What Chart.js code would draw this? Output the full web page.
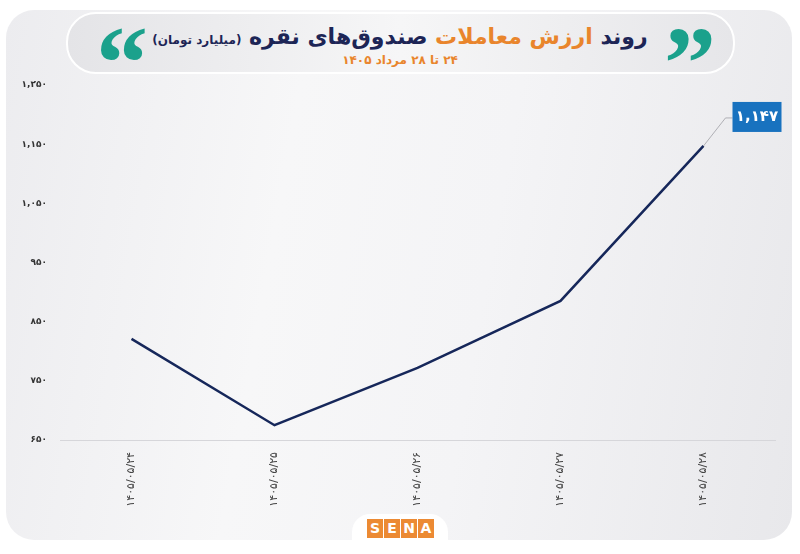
<!DOCTYPE html>
<html lang="fa">
<head>
<meta charset="UTF-8" />
<title>روند ارزش معاملات صندوق‌های نقره</title>
<script src="https://cdn.jsdelivr.net/npm/chart.js@4.4.1/dist/chart.umd.min.js"></script>
<style>
  html, body { margin: 0; padding: 0; background: #fff; }
  body { width: 800px; height: 554px; position: relative; overflow: hidden; font-family: "DejaVu Sans", sans-serif; }
  #card {
    position: absolute; left: 6px; top: 10px; width: 786px; height: 530px;
    border-radius: 28px;
    background: linear-gradient(100deg, #ececef 0%, #f7f7f8 35%, #f4f4f6 60%, #e8e8eb 100%);
  }
  #pill {
    position: absolute; left: 66px; top: 12px; width: 665px; height: 58px;
    border-radius: 30px; border: 2px solid #fff;
    background: linear-gradient(90deg, #e4e4e7 0%, #f6f6f7 50%, #e6e6e9 100%);
  }
  #title {
    position: absolute; left: 0; width: 800px; top: 24px; text-align: center;
    direction: rtl; font-weight: bold; font-size: 22px; color: #1d2556; white-space: nowrap;
  }
  #title .hl { color: #e9852c; }
  #title small { font-size: 12px; color: #1d2556; }
  #sub {
    position: absolute; left: 0; width: 800px; top: 53px; text-align: center;
    direction: rtl; font-weight: bold; font-size: 12px; color: #e9852c;
  }
  .q {
    position: absolute; top: 13px; font: bold 104px/100px "Liberation Serif", serif;
    color: #1ba18c;
  }
  #logo {
    position: absolute; left: 352px; top: 514px; width: 96px; height: 40px;
    background: #fff; border-radius: 18px 18px 0 0; text-align: center;
  }
  #logo span {
    display: inline-block; width: 16px; height: 19px; margin: 5px 0 0 1px;
    background: #ec8a33; color: #fff; font: bold 14px/19px "DejaVu Sans", sans-serif;
  }
  canvas { position: absolute; left: 0; top: 0; }
</style>
</head>
<body>
<div id="card"></div>
<div id="pill"></div>
<div class="q" style="left:96px">“</div>
<div class="q" style="left:664px">”</div>
<div id="title">روند <span class="hl">ارزش معاملات</span> صندوق‌های نقره <small>(میلیارد تومان)</small></div>
<div id="sub">۲۴ تا ۲۸ مرداد ۱۴۰۵</div>
<div id="logo"><span>S</span><span>E</span><span>N</span><span>A</span></div>
<canvas id="chart" width="800" height="554"></canvas>
<script>
const dates = ['۱۴۰۵/۰۵/۲۴', '۱۴۰۵/۰۵/۲۵', '۱۴۰۵/۰۵/۲۶', '۱۴۰۵/۰۵/۲۷', '۱۴۰۵/۰۵/۲۸'];
const tradeValue = [821, 675, 772, 885, 1147];
const yTickValues = [650, 750, 850, 950, 1050, 1150, 1250];

function toFa(n) {
  return n.toLocaleString('en-US').replace(/\d/g, d => '۰۱۲۳۴۵۶۷۸۹'[d]);
}

// label box on the last point
const lastLabel = {
  id: 'lastLabel',
  afterDatasetsDraw(chart) {
    const meta = chart.getDatasetMeta(0);
    const i = meta.data.length - 1;
    const pt = meta.data[i];
    const ctx = chart.ctx;
    ctx.save();
    ctx.strokeStyle = '#a0a0a6';
    ctx.lineWidth = 0.8;
    ctx.beginPath();
    ctx.moveTo(pt.x, pt.y);
    ctx.lineTo(pt.x + 22, pt.y - 28);
    ctx.lineTo(pt.x + 29, pt.y - 28);
    ctx.stroke();
    ctx.fillStyle = '#1872bf';
    ctx.fillRect(pt.x + 29, pt.y - 44, 49, 30);
    ctx.fillStyle = '#fff';
    ctx.font = 'bold 15px "DejaVu Sans"';
    ctx.textAlign = 'center';
    ctx.textBaseline = 'middle';
    ctx.fillText(toFa(tradeValue[i]), pt.x + 53.5, pt.y - 29);
    ctx.restore();
  }
};

new Chart(document.getElementById('chart'), {
  type: 'line',
  data: {
    labels: dates,
    datasets: [{
      data: tradeValue,
      borderColor: '#16275a',
      borderWidth: 2.5,
      tension: 0,
      pointRadius: 0,
      fill: false
    }]
  },
  options: {
    responsive: false,
    animation: false,
    layout: { padding: { left: 10, right: 25, top: 85, bottom: 34 } },
    plugins: { legend: { display: false }, tooltip: { enabled: false } },
    scales: {
      x: {
        offset: true,
        grid: { display: false, drawTicks: false },
        border: { color: '#d6d6da', width: 1 },
        ticks: {
          minRotation: 90, maxRotation: 90, padding: 12,
          color: '#444', font: { family: 'DejaVu Sans', size: 11 }
        },
        afterFit(s) { s.height = 80; }
      },
      y: {
        min: 650, max: 1250,
        grid: { display: false, drawTicks: false },
        border: { display: false },
        afterBuildTicks(s) { s.ticks = yTickValues.map(v => ({ value: v })); },
        ticks: {
          padding: 13, color: '#333',
          font: { family: 'DejaVu Sans', size: 9, weight: 'bold' },
          callback: v => toFa(v)
        },
        afterFit(s) { s.width = 50; }
      }
    }
  },
  plugins: [lastLabel]
});
</script>
</body>
</html>
